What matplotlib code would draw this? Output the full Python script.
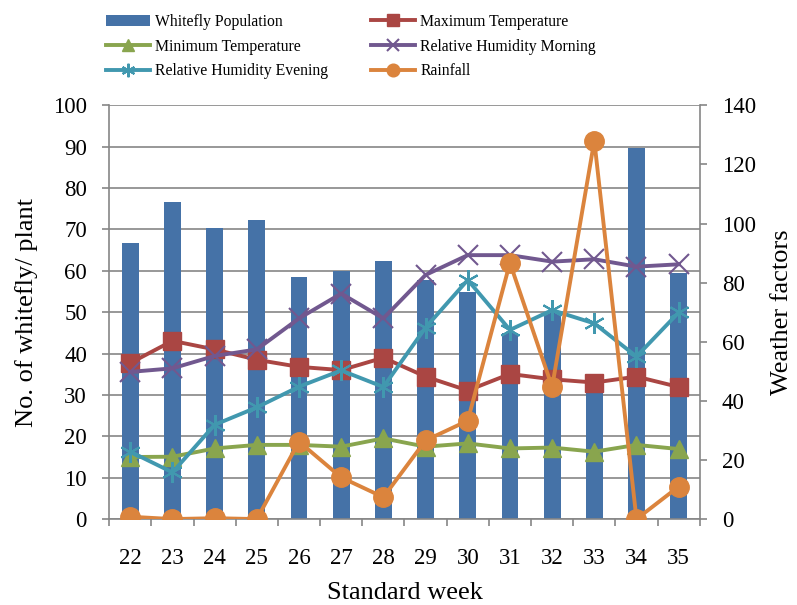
import matplotlib
matplotlib.use("Agg")
import matplotlib.pyplot as plt
import numpy as np

weeks = ["22", "23", "24", "25", "26", "27", "28", "29", "30", "31", "32", "33", "34", "35"]
whitefly = [66.6, 76.7, 70.3, 72.3, 58.6, 59.9, 62.3, 57.8, 54.9, 45.0, 49.7, 30.4, 89.7, 59.4]
max_temp = [52.8, 60.3, 57.4, 53.9, 51.5, 50.4, 54.6, 48.2, 43.5, 49.1, 47.3, 46.2, 48.2, 44.7]
min_temp = [21.0, 21.1, 23.9, 25.1, 25.1, 24.5, 27.3, 24.5, 25.6, 23.9, 24.2, 22.8, 25.1, 23.7]
rh_morning = [49.8, 51.0, 55.2, 57.4, 67.9, 76.3, 67.9, 82.6, 89.3, 89.3, 87.1, 87.9, 85.4, 86.2]
rh_evening = [22.8, 15.8, 31.9, 37.8, 44.8, 50.3, 44.7, 64.8, 80.9, 64.0, 70.7, 66.2, 55.0, 69.9]
rainfall = [0.8, 0.0, 0.3, 0.0, 26.2, 14.1, 7.4, 26.6, 33.3, 86.7, 44.7, 128.0, 0.0, 11.0]

plt.rcParams['font.family'] = ['Liberation Serif', 'DejaVu Serif']
grey = '#868686'

fig = plt.figure(figsize=(7.97, 6.05), dpi=100)
ax = fig.add_axes([0.137, 0.142, 0.741, 0.684])
x = np.arange(len(weeks))

bars = ax.bar(x, whitefly, width=0.4, color='#4572A7', zorder=2, label='Whitefly Population')
ax.set_ylim(0, 100)
ax.set_yticks(np.arange(0, 101, 10))
ax.set_xlim(-0.5, len(weeks) - 0.5)
ax.set_xticks(x)
ax.set_xticklabels(weeks)
ax.set_xticks(np.arange(-0.5, len(weeks)), minor=True)
ax.tick_params(axis='x', which='major', length=0, labelsize=16.5, pad=21)
ax.tick_params(axis='x', which='minor', length=5, color=grey, width=1.2)
ax.tick_params(axis='y', length=5, color=grey, width=1.2, labelsize=16.5, pad=11)
ax.grid(axis='y', color=grey, linewidth=1.2, zorder=0)
ax.set_axisbelow(True)
for s in ['left', 'bottom']:
    ax.spines[s].set_color(grey)
    ax.spines[s].set_linewidth(1.2)
ax.spines['top'].set_visible(False)
ax.spines['right'].set_visible(False)
ax.set_ylabel('No. of whitefly/ plant', fontsize=19, labelpad=11)
ax.set_xlabel('Standard week', fontsize=19, labelpad=9)

ax2 = ax.twinx()
ax2.set_ylim(0, 140)
ax2.set_yticks(np.arange(0, 141, 20))
lw = 2.8
l1, = ax2.plot(x, max_temp, color='#AA4643', lw=lw, marker='s', ms=13, label='Maximum Temperature')
l2, = ax2.plot(x, min_temp, color='#89A54E', lw=lw, marker='^', ms=13, label='Minimum Temperature')
l3, = ax2.plot(x, rh_morning, color='#71588F', lw=lw, marker='x', ms=14, mew=1.5, label='Relative Humidity Morning')
l4, = ax2.plot(x, rh_evening, color='#4198AF', lw=lw, marker=(6, 2, 0), ms=15, mew=1.5, label='Relative Humidity Evening')
l5, = ax2.plot(x, rainfall, color='#DB843D', lw=lw, marker='o', ms=14, label='Rainfall')
ax2.tick_params(axis='y', length=5, color=grey, width=1.2, labelsize=16.5, pad=11)
for s in ['left', 'top', 'bottom']:
    ax2.spines[s].set_visible(False)
ax2.spines['right'].set_color(grey)
ax2.spines['right'].set_linewidth(1.2)
ax2.set_ylabel('Weather factors', fontsize=19, labelpad=11)

handles = [bars, l2, l4, l1, l3, l5]
labels = [h.get_label() for h in handles]
leg = fig.legend(handles, labels, ncol=2, loc='upper left', bbox_to_anchor=(0.133, 0.977),
                 borderaxespad=0, borderpad=0,
                 frameon=False, fontsize=11.3, handlelength=2.8, handletextpad=0.35,
                 columnspacing=2.7, labelspacing=0.55, markerscale=0.65)

fig.savefig('out.png', dpi=100)
